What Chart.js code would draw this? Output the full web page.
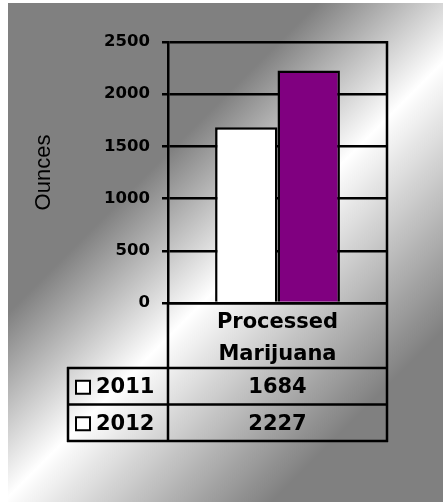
<!DOCTYPE html>
<html>
<head>
<meta charset="utf-8">
<script src="https://cdn.jsdelivr.net/npm/chart.js@4/dist/chart.umd.min.js"></script>
<style>
  html, body { margin: 0; padding: 0; background: #ffffff; }
  #wrap { width: 443px; height: 502px; position: relative; }
</style>
</head>
<body>
<div id="wrap"><canvas id="c" width="443" height="502"></canvas></div>
<script>
// ---- data ----
const categories = [['Processed', 'Marijuana']];
const seriesNames = ['2011', '2012'];
const values2011 = [1684];
const values2012 = [2227];
const yTicks = [0, 500, 1000, 1500, 2000, 2500];
const yTitle = 'Ounces';

const seriesValues = [values2011, values2012];
const LW = 2.5;

const bgPlugin = {
  id: 'bg',
  beforeDraw(chart) {
    const ctx = chart.ctx;
    ctx.save();
    ctx.fillStyle = '#ffffff';
    ctx.fillRect(0, 0, chart.width, chart.height);
    const g = ctx.createLinearGradient(0, 0, 472, 472);
    g.addColorStop(0, '#808080');
    g.addColorStop(0.34, '#808080');
    g.addColorStop(0.535, '#ffffff');
    g.addColorStop(0.82, '#808080');
    g.addColorStop(1, '#808080');
    ctx.fillStyle = g;
    ctx.fillRect(8, 3, chart.width - 8, chart.height - 3);
    ctx.restore();
  }
};

const tablePlugin = {
  id: 'table',
  afterDraw(chart) {
    const ctx = chart.ctx;
    const area = chart.chartArea;
    const xs = chart.scales.x;
    const catBottom = xs.bottom;
    const rowH = 36.5;
    const leftX = 68;
    ctx.save();
    ctx.strokeStyle = '#000000';
    ctx.lineWidth = LW;
    ctx.beginPath();
    ctx.moveTo(area.right, area.top - 1);
    ctx.lineTo(area.right, catBottom + rowH * seriesNames.length + 1);
    ctx.moveTo(area.left, area.bottom);
    ctx.lineTo(area.left, catBottom + rowH * seriesNames.length + 1);
    ctx.moveTo(leftX, catBottom - 1);
    ctx.lineTo(leftX, catBottom + rowH * seriesNames.length + 1);
    for (let i = 0; i <= seriesNames.length; i++) {
      const y = catBottom + rowH * i;
      ctx.moveTo(leftX - 1, y);
      ctx.lineTo(area.right + 1, y);
    }
    ctx.stroke();

    ctx.fillStyle = '#000000';
    ctx.font = 'bold 21px "DejaVu Sans"';
    ctx.textBaseline = 'middle';
    seriesNames.forEach((name, i) => {
      const cy = catBottom + rowH * i + rowH / 2 + 1.5;
      ctx.save();
      ctx.lineWidth = 2;
      ctx.fillStyle = '#ffffff';
      ctx.fillRect(76, cy - 7, 14, 13);
      ctx.strokeRect(76, cy - 7, 14, 13);
      ctx.restore();
      ctx.textAlign = 'left';
      ctx.fillText(name, 96, cy);
      ctx.textAlign = 'center';
      seriesValues[i].forEach((v, j) => {
        ctx.fillText(String(v), xs.getPixelForValue(j), cy);
      });
    });
    ctx.restore();
  }
};

new Chart(document.getElementById('c'), {
  type: 'bar',
  data: {
    labels: categories,
    datasets: [
      { label: seriesNames[0], data: values2011, backgroundColor: '#ffffff', borderColor: '#000000', borderWidth: LW },
      { label: seriesNames[1], data: values2012, backgroundColor: '#800080', borderColor: '#000000', borderWidth: LW }
    ]
  },
  options: {
    responsive: false,
    animation: false,
    devicePixelRatio: 1,
    layout: { padding: { left: 8, right: 56, top: 42, bottom: 134 } },
    plugins: { legend: { display: false }, tooltip: { enabled: false }, title: { display: false } },
    datasets: { bar: { categoryPercentage: 0.57, barPercentage: 1.0 } },
    scales: {
      x: {
        grid: { display: false },
        border: { display: true, color: '#000000', width: LW },
        ticks: {
          color: '#000000',
          padding: -4,
          maxRotation: 0,
          font: { family: 'DejaVu Sans', size: 21, weight: 'bold', lineHeight: 1.5 }
        },
        afterFit(scale) { scale.height = 65; }
      },
      y: {
        min: 0,
        max: 2500,
        afterBuildTicks(scale) { scale.ticks = yTicks.map(v => ({ value: v })); },
        grid: { color: '#000000', lineWidth: LW, tickLength: 6, tickColor: '#000000', drawTicks: true },
        border: { display: true, color: '#000000', width: LW },
        ticks: {
          color: '#000000',
          padding: 12,
          callback: (v) => String(v),
          font: { family: 'DejaVu Sans', size: 16.5, weight: 'bold' }
        },
        title: {
          display: true,
          text: yTitle,
          color: '#000000',
          padding: { top: 23, bottom: 0 },
          font: { family: 'Liberation Sans', size: 22, weight: 'normal' }
        },
        afterFit(scale) { scale.width = 160; }
      }
    }
  },
  plugins: [bgPlugin, tablePlugin]
});
</script>
</body>
</html>
